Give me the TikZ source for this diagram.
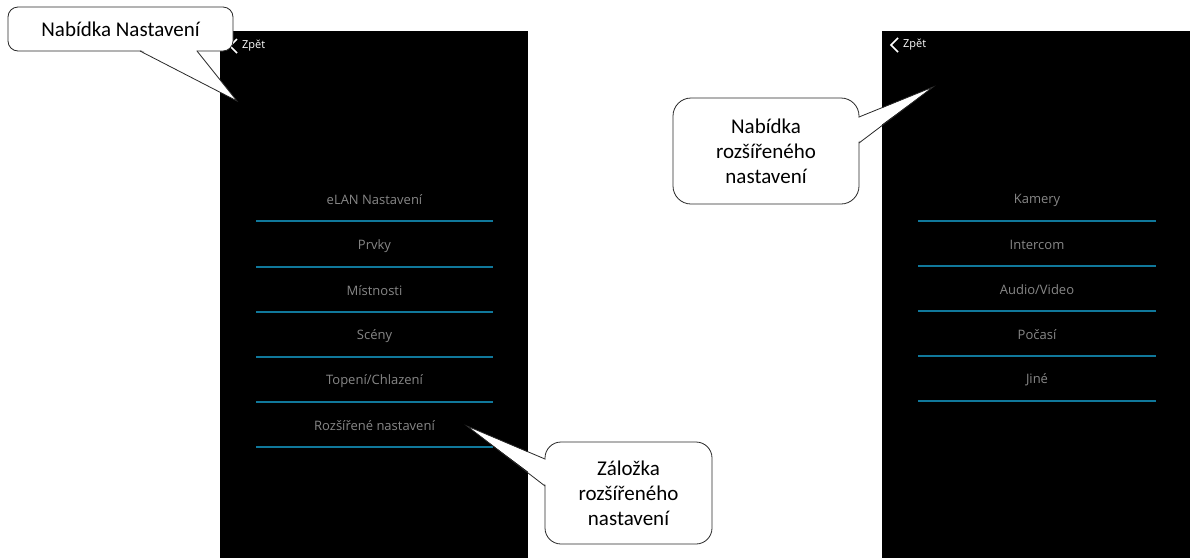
\documentclass[tikz,border=0pt]{standalone}
\usepackage{fontspec}
\setmainfont{Carlito}
\newfontfamily\uifont{Open Sans}
\definecolor{menuline}{RGB}{16,120,155}
\definecolor{menutext}{RGB}{135,135,135}
\definecolor{calloutline}{RGB}{40,40,40}
\begin{document}
\begin{tikzpicture}[x=1pt,y=-1pt,
  panel/.style={fill=black,draw=none},
  item/.style={font=\uifont\fontsize{13}{15}\selectfont, text=menutext, inner sep=0pt},
  sepline/.style={draw=menuline, line width=1.6pt},
  back/.style={font=\uifont\fontsize{11}{13}\selectfont, text=white, inner sep=0pt, anchor=west},
  chevron/.style={draw=white, line width=1.6pt},
  callout/.style={draw=calloutline, line width=0.8pt, fill=white, align=center, inner sep=0pt,
    font=\fontsize{21}{25}\selectfont},
  tail/.style={draw=calloutline, line width=0.8pt}
]
\useasboundingbox (0,0) rectangle (1190,558);
\fill[white] (0,0) rectangle (1190,558);

% panels
\fill[panel] (220,31) rectangle (528,558);
\fill[panel] (882,31) rectangle (1190,558);

% back buttons
\draw[chevron] (237,39) -- (230,46) -- (237,53);
\node[back] (backL) at (242,46) {Zpět};
\draw[chevron] (898,38) -- (891,45) -- (898,52);
\node[back] (backR) at (903,45) {Zpět};

% left menu
\foreach \i/\y/\t in {0/221/{eLAN Nastavení},1/267/{Prvky},2/312/{Místnosti},3/357/{Scény},4/402/{Topení/Chlazení},5/447/{Rozšířené nastavení}}{
  \node[item] (L\i) at (374.5,{\y-21}) {\t};
  \draw[sepline] (256,\y) -- (493,\y);
}
% right menu
\foreach \i/\y/\t in {0/221/{Kamery},1/266/{Intercom},2/311/{Audio/Video},3/356/{Počasí},4/401/{Jiné}}{
  \node[item] (R\i) at (1037,{\y-21}) {\t};
  \draw[sepline] (918,\y) -- (1156,\y);
}

% callout 1
\node[callout, rounded corners=10pt, minimum width=225pt, minimum height=44pt] (c1) at (120.5,29) {Nabídka Nastavení};
\coordinate (t1) at (237,101);
\fill[white] (141,50) -- (t1) -- (196,50) -- cycle;
\draw[tail] (140,51) -- (t1) -- (197,51);

% callout 2
\node[callout, rounded corners=18pt, minimum width=186pt, minimum height=106pt] (c2) at (766,151) {Nabídka\\rozšířeného\\nastavení};
\coordinate (t2) at (933,87);
\fill[white] (858,118) -- (t2) -- (858,142) -- cycle;
\draw[tail] (859,117) -- (t2) -- (859,143);

% callout 3
\node[callout, rounded corners=16pt, minimum width=167pt, minimum height=102pt] (c3) at (628.5,493) {Záložka\\rozšířeného\\nastavení};
\coordinate (t3) at (467,426);
\fill[white] (546,460) -- (t3) -- (546,485) -- cycle;
\draw[tail] (545,459) -- (t3) -- (545,486);
\end{tikzpicture}
\end{document}
